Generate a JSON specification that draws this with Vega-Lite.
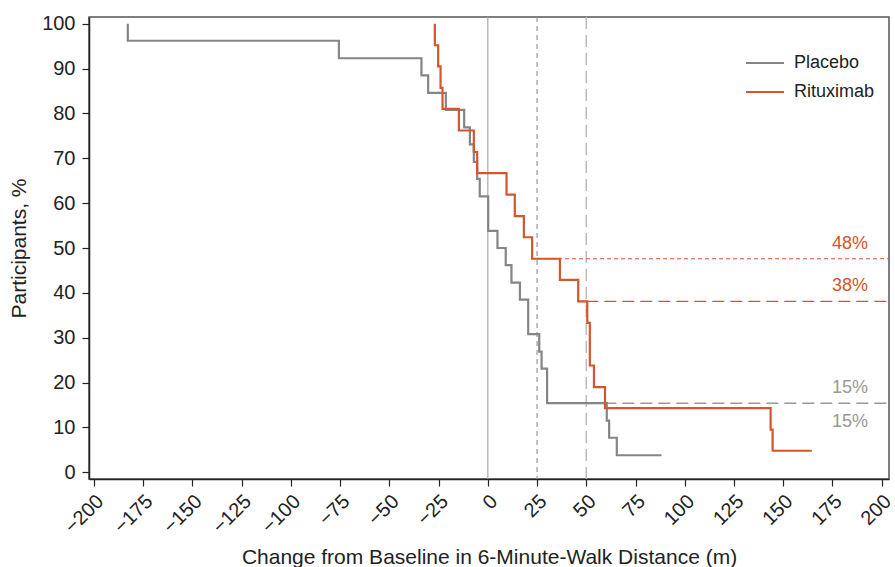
{
  "$schema": "https://vega.github.io/schema/vega-lite/v6.json",
  "width": 800,
  "height": 462,
  "autosize": {"type": "none"},
  "padding": {"left": 89, "top": 17, "right": 6, "bottom": 88},
  "background": "white",
  "config": {
    "font": "Liberation Sans",
    "view": {"stroke": "#555", "strokeWidth": 1.5},
    "axis": {
      "labelFont": "Liberation Sans",
      "titleFont": "Liberation Sans",
      "labelFontSize": 20,
      "titleFontSize": 21,
      "titleFontWeight": "normal",
      "labelColor": "#222",
      "titleColor": "#222",
      "domainColor": "#222",
      "domainWidth": 1.5,
      "tickColor": "#222",
      "tickWidth": 1.2,
      "tickSize": 7,
      "grid": false
    }
  },
  "datasets": {
    "curves": [
      {"series": "Placebo", "change": -182.8, "pct": 100},
      {"series": "Placebo", "change": -75.6, "pct": 96.2},
      {"series": "Placebo", "change": -33.7, "pct": 92.3},
      {"series": "Placebo", "change": -30.3, "pct": 88.5},
      {"series": "Placebo", "change": -21.3, "pct": 84.6},
      {"series": "Placebo", "change": -12.0, "pct": 80.8},
      {"series": "Placebo", "change": -9.1, "pct": 76.9},
      {"series": "Placebo", "change": -7.1, "pct": 73.1},
      {"series": "Placebo", "change": -5.4, "pct": 69.2},
      {"series": "Placebo", "change": -4.1, "pct": 65.4},
      {"series": "Placebo", "change": 0.2, "pct": 61.5},
      {"series": "Placebo", "change": 4.9, "pct": 53.8},
      {"series": "Placebo", "change": 9.1, "pct": 50.0},
      {"series": "Placebo", "change": 12.0, "pct": 46.2},
      {"series": "Placebo", "change": 16.3, "pct": 42.3},
      {"series": "Placebo", "change": 20.5, "pct": 38.5},
      {"series": "Placebo", "change": 26.1, "pct": 30.8},
      {"series": "Placebo", "change": 27.3, "pct": 26.9},
      {"series": "Placebo", "change": 30.1, "pct": 23.1},
      {"series": "Placebo", "change": 60.4, "pct": 15.4},
      {"series": "Placebo", "change": 61.6, "pct": 11.5},
      {"series": "Placebo", "change": 65.5, "pct": 7.7},
      {"series": "Placebo", "change": 88.2, "pct": 3.8},
      {"series": "Rituximab", "change": -26.9, "pct": 100},
      {"series": "Rituximab", "change": -25.2, "pct": 95.2},
      {"series": "Rituximab", "change": -24.0, "pct": 90.5},
      {"series": "Rituximab", "change": -23.0, "pct": 85.7},
      {"series": "Rituximab", "change": -14.7, "pct": 81.0},
      {"series": "Rituximab", "change": -7.1, "pct": 76.2},
      {"series": "Rituximab", "change": -5.4, "pct": 71.4},
      {"series": "Rituximab", "change": 9.5, "pct": 66.7},
      {"series": "Rituximab", "change": 13.7, "pct": 61.9},
      {"series": "Rituximab", "change": 18.3, "pct": 57.1},
      {"series": "Rituximab", "change": 22.5, "pct": 52.4},
      {"series": "Rituximab", "change": 36.6, "pct": 47.6},
      {"series": "Rituximab", "change": 45.9, "pct": 42.9},
      {"series": "Rituximab", "change": 50.5, "pct": 38.1},
      {"series": "Rituximab", "change": 51.8, "pct": 33.3},
      {"series": "Rituximab", "change": 53.9, "pct": 23.8},
      {"series": "Rituximab", "change": 59.5, "pct": 19.0},
      {"series": "Rituximab", "change": 143.6, "pct": 14.3},
      {"series": "Rituximab", "change": 144.6, "pct": 9.5},
      {"series": "Rituximab", "change": 164.5, "pct": 4.8}
    ]
  },
  "layer": [
    {
      "data": {"values": [{"change": 0}]},
      "mark": {"type": "rule", "color": "#aaa", "strokeWidth": 1.2},
      "encoding": {"x": {"field": "change", "type": "quantitative"}}
    },
    {
      "data": {"values": [{"change": 25}]},
      "mark": {"type": "rule", "color": "#999", "strokeWidth": 1.2, "strokeDash": [5, 4]},
      "encoding": {"x": {"field": "change", "type": "quantitative"}}
    },
    {
      "data": {"values": [{"change": 50}]},
      "mark": {"type": "rule", "color": "#bbb", "strokeWidth": 1.5, "strokeDash": [12, 6]},
      "encoding": {"x": {"field": "change", "type": "quantitative"}}
    },
    {
      "data": {"values": [{"from": 25, "to": 203.7, "pct": 47.6}]},
      "mark": {"type": "rule", "color": "#d4562c", "strokeWidth": 1.2, "strokeDash": [4, 3]},
      "encoding": {
        "x": {"field": "from", "type": "quantitative"},
        "x2": {"field": "to"},
        "y": {"field": "pct", "type": "quantitative"}
      }
    },
    {
      "data": {"values": [{"from": 50, "to": 203.7, "pct": 38.1}]},
      "mark": {"type": "rule", "color": "#d4562c", "strokeWidth": 1.2, "strokeDash": [12, 6]},
      "encoding": {
        "x": {"field": "from", "type": "quantitative"},
        "x2": {"field": "to"},
        "y": {"field": "pct", "type": "quantitative"}
      }
    },
    {
      "data": {"values": [{"from": 50, "to": 203.7, "pct": 15.4}]},
      "mark": {"type": "rule", "color": "#999", "strokeWidth": 1.5, "strokeDash": [12, 6]},
      "encoding": {
        "x": {"field": "from", "type": "quantitative"},
        "x2": {"field": "to"},
        "y": {"field": "pct", "type": "quantitative"}
      }
    },
    {
      "data": {"name": "curves"},
      "mark": {"type": "line", "interpolate": "step-before", "strokeWidth": 2.2, "clip": true},
      "encoding": {
        "x": {
          "field": "change",
          "type": "quantitative",
          "scale": {"domain": [-202.5, 203.7], "nice": false, "zero": false},
          "axis": {
            "values": [-200, -175, -150, -125, -100, -75, -50, -25, 0, 25, 50, 75, 100, 125, 150, 175, 200],
            "labelAngle": -45,
            "labelAlign": "right",
            "labelBaseline": "middle",
            "labelPadding": 12,
            "labelOffset": 6,
            "title": "Change from Baseline in 6-Minute-Walk Distance (m)",
            "titlePadding": 10
          }
        },
        "y": {
          "field": "pct",
          "type": "quantitative",
          "scale": {"domain": [-1.5, 101.5], "nice": false, "zero": false},
          "axis": {
            "values": [0, 10, 20, 30, 40, 50, 60, 70, 80, 90, 100],
            "labelPadding": 7,
            "title": "Participants, %",
            "titlePadding": 12
          }
        },
        "color": {
          "field": "series",
          "type": "nominal",
          "scale": {"domain": ["Placebo", "Rituximab"], "range": ["#858585", "#d4562c"]},
          "legend": {
            "title": null,
            "orient": "none",
            "legendX": 656,
            "legendY": 26,
            "symbolType": "stroke",
            "symbolSize": 1444,
            "symbolStrokeWidth": 2,
            "labelFontSize": 18,
            "labelFont": "Liberation Sans",
            "labelColor": "#222",
            "rowPadding": -10,
            "labelOffset": 9
          }
        }
      }
    },
    {
      "data": {"values": [
        {"label": "48%", "at": 193, "pct": 47.6, "series": "Rituximab"},
        {"label": "38%", "at": 193, "pct": 38.1, "series": "Rituximab"},
        {"label": "15%", "at": 193, "pct": 15.4, "series": "Placebo"}
      ]},
      "mark": {"type": "text", "align": "right", "baseline": "bottom", "dy": -6, "fontSize": 18},
      "encoding": {
        "x": {"field": "at", "type": "quantitative"},
        "y": {"field": "pct", "type": "quantitative"},
        "text": {"field": "label"},
        "color": {"field": "series", "type": "nominal", "scale": {"domain": ["Placebo", "Rituximab"], "range": ["#999999", "#d4562c"]}, "legend": null}
      }
    },
    {
      "data": {"values": [
        {"label": "15%", "at": 193, "pct": 15.4, "series": "Placebo"}
      ]},
      "mark": {"type": "text", "align": "right", "baseline": "top", "dy": 10, "fontSize": 18, "color": "#999999"},
      "encoding": {
        "x": {"field": "at", "type": "quantitative"},
        "y": {"field": "pct", "type": "quantitative"},
        "text": {"field": "label"}
      }
    }
  ],
  "resolve": {"scale": {"color": "independent"}}
}
